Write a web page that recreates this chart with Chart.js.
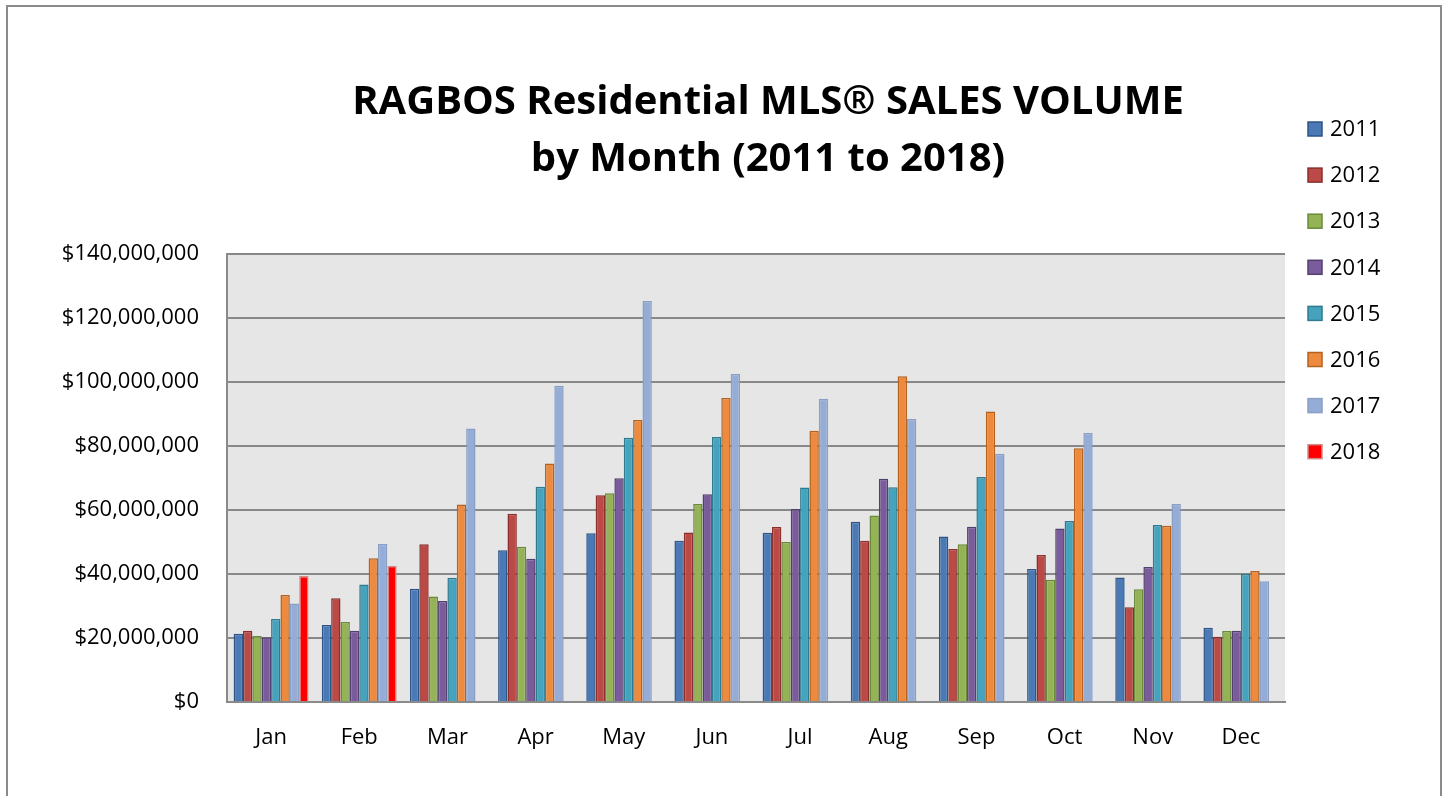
<!DOCTYPE html>
<html>
<head>
<meta charset="utf-8">
<script src="https://cdn.jsdelivr.net/npm/chart.js@4"></script>
<style>
  html, body { margin: 0; padding: 0; background: #fff; }
  #frame { position: absolute; left: 6px; top: 5px; width: 1436px; height: 800px; border: 2px solid #8a8a8a; box-sizing: border-box; }
  #wrap { position: absolute; left: 0; top: 0; width: 1450px; height: 796px; }
</style>
</head>
<body>
<div id="frame"></div>
<div id="wrap"><canvas id="salesChart" width="1450" height="796"></canvas></div>
<script>
// values in millions of dollars
const months = ['Jan', 'Feb', 'Mar', 'Apr', 'May', 'Jun', 'Jul', 'Aug', 'Sep', 'Oct', 'Nov', 'Dec'];
const years = ['2011', '2012', '2013', '2014', '2015', '2016', '2017', '2018'];

const sales2011 = [21.3, 24.1, 35.4, 47.4, 52.7, 50.4, 52.9, 56.3, 51.7, 41.6, 38.9, 23.2];
const sales2012 = [22.3, 32.4, 49.3, 58.8, 64.6, 53.0, 54.7, 50.4, 47.8, 45.9, 29.6, 20.4];
const sales2013 = [20.6, 25.0, 33.0, 48.5, 65.2, 61.9, 50.0, 58.3, 49.3, 38.2, 35.2, 22.2];
const sales2014 = [20.2, 22.3, 31.6, 44.8, 69.9, 64.9, 60.3, 69.8, 54.8, 54.2, 42.2, 22.3];
const sales2015 = [25.9, 36.7, 38.8, 67.3, 82.6, 82.8, 67.0, 67.1, 70.3, 56.6, 55.3, 40.0];
const sales2016 = [33.4, 44.9, 61.7, 74.5, 88.1, 95.0, 84.8, 101.8, 90.8, 79.3, 55.1, 40.9];
const sales2017 = [30.8, 49.4, 85.5, 98.8, 125.3, 102.5, 94.8, 88.4, 77.6, 84.1, 61.9, 37.7];
const sales2018 = [39.4, 42.6, null, null, null, null, null, null, null, null, null, null];

const yTicks = [0, 20, 40, 60, 80, 100, 120, 140];

const fillColors = ['#4a7ab5', '#bb4a47', '#93b356', '#7a5c9c', '#46a3bd', '#ee8a3e', '#95add6', '#ff0000'];
const edgeColors = ['#2f5486', '#8a2f2d', '#6a8a3a', '#54406f', '#2e7a8f', '#b3621f', '#8a9fc4', '#d08a8a'];

const allSales = [sales2011, sales2012, sales2013, sales2014, sales2015, sales2016, sales2017, sales2018];

const FONT = '"Open Sans", sans-serif';

const chartDecor = {
    id: 'chartDecor',
    beforeDraw(chart) {
        const ctx = chart.ctx;
        const a = chart.chartArea;
        ctx.save();
        ctx.fillStyle = '#e6e6e6';
        ctx.fillRect(a.left, a.top, a.right - a.left, a.bottom - a.top);
        ctx.restore();
    },
    afterDraw(chart) {
        const ctx = chart.ctx;
        ctx.save();
        // title
        ctx.fillStyle = '#000';
        ctx.textAlign = 'center';
        ctx.textBaseline = 'middle';
        ctx.font = 'bold 40px ' + FONT;
        ctx.fillText('RAGBOS Residential MLS® SALES VOLUME', 768, 103);
        ctx.fillText('by Month (2011 to 2018)', 768, 160);

        // legend
        ctx.textAlign = 'left';
        ctx.font = '22px ' + FONT;
        chart.data.datasets.forEach((ds, i) => {
            const y = 129 + i * 46.1;
            ctx.fillStyle = ds.backgroundColor;
            ctx.fillRect(1308, y - 7, 14, 14);
            ctx.strokeStyle = ds.borderColor;
            ctx.lineWidth = 1.5;
            ctx.strokeRect(1308, y - 7, 14, 14);
            ctx.fillStyle = '#000';
            ctx.fillText(ds.label, 1330, y + 1);
        });
        ctx.restore();
    }
};

new Chart(document.getElementById('salesChart'), {
    type: 'bar',
    data: {
        labels: months,
        datasets: years.map((yr, i) => ({
            label: yr,
            data: allSales[i],
            backgroundColor: fillColors[i],
            borderColor: edgeColors[i],
            borderWidth: 1.5,
            borderSkipped: 'start',
            barPercentage: 1.0,
            categoryPercentage: 0.85
        }))
    },
    options: {
        responsive: false,
        animation: false,
        layout: { padding: { left: 7, right: 165, top: 254, bottom: 0 } },
        plugins: {
            legend: { display: false },
            title: { display: false },
            tooltip: { enabled: false }
        },
        scales: {
            x: {
                grid: { display: false, drawTicks: false },
                border: { color: '#8a8a8a', width: 2 },
                ticks: { color: '#000', font: { family: FONT, size: 22 }, padding: 23 },
                afterFit(scale) { scale.height = 94; }
            },
            y: {
                min: 0,
                max: 140,
                afterBuildTicks(scale) { scale.ticks = yTicks.map(v => ({ value: v })); },
                grid: { color: '#888888', lineWidth: 2, drawTicks: false },
                border: { color: '#8a8a8a', width: 2 },
                ticks: {
                    color: '#000',
                    font: { family: FONT, size: 22 },
                    padding: 28,
                    callback: v => '$' + (v * 1000000).toLocaleString('en-US')
                },
                afterFit(scale) { scale.width = 220; }
            }
        }
    },
    plugins: [chartDecor]
});
</script>
</body>
</html>
